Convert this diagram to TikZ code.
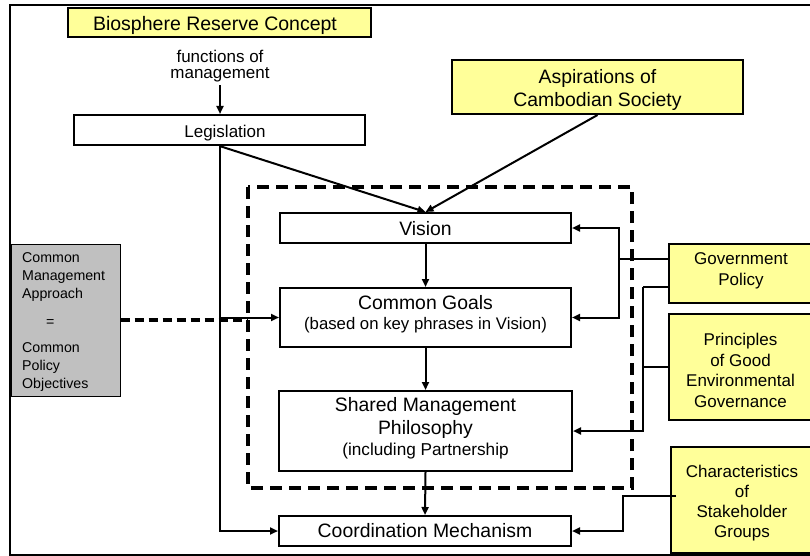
\documentclass[tikz,border=0pt]{standalone}
\usepackage{fontspec}
\setmainfont{Liberation Sans}
\usetikzlibrary{arrows.meta,calc}
\definecolor{ylw}{HTML}{FFFF99}
\definecolor{gry}{HTML}{C0C0C0}
\newcommand{\fsz}[2]{\fontsize{#1}{#2}\selectfont}
\newcommand{\tdn}[1]{\rule{0pt}{#1}}
\newcommand{\tup}[1]{\rule[-#1]{0pt}{0pt}}
\begin{document}
\begin{tikzpicture}[x=1pt,y=-1pt,
  box/.style={draw, line width=2pt, inner sep=0pt, align=center, font=\fsz{17}{20.5}},
  ybox/.style={box, fill=ylw},
  conn/.style={line width=2pt},
  arr/.style={conn, -{Triangle[length=8pt,width=7pt]}},
  bigdash/.style={line width=3.5pt, dash pattern=on 12pt off 7pt},
  smalldash/.style={line width=3.5pt, dash pattern=on 9pt off 5pt}]
\useasboundingbox (0,0) rectangle (810,556);
\draw[line width=2pt] (10,5) rectangle (830,555);

% nodes
\node[ybox, minimum width=303, minimum height=29, text height=16.4pt, text depth=0pt, font=\fsz{19.5}{23}] (bio) at (219.5,22.5) {Biosphere Reserve Concept\hspace{9pt}};
\node[font=\fsz{17}{15.5}, align=center, inner xsep=0pt, inner ysep=3.5pt] (fm) at (220,66) {functions of\\management};
\node[box, minimum width=291, minimum height=30, text height=14.6pt, text depth=0pt] (leg) at (219.5,130) {\hspace{11pt}Legislation};
\node[ybox, minimum width=291, minimum height=54, font=\fsz{19.4}{23.4}] (asp) at (597.5,87) {\tdn{20.1pt}Aspirations of\\Cambodian Society};
\node[box, minimum width=291, minimum height=30, text height=14pt, text depth=0pt, font=\fsz{19.4}{23}] (vis) at (425.5,228) {Vision};
\node[box, minimum width=291, minimum height=59, font=\fsz{19.4}{20.3}] (cg) at (425.5,317.5) {Common Goals\\{\fsz{16.75}{20.3}(based on key phrases in Vision)}\tup{9.5pt}};
\node[box, minimum width=293, minimum height=80, font=\fsz{19.4}{23.3}] (shm) at (425.5,431) {Shared Management\\Philosophy\\[-2.3pt]{\fsz{17.2}{21}(including Partnership}\tup{8.6pt}};
\node[box, minimum width=292, minimum height=30, text height=12.6pt, text depth=0pt, font=\fsz{19.4}{23}] (coord) at (425,531) {Coordination Mechanism};

\node[draw, line width=1pt, fill=gry, minimum width=109, minimum height=152, inner sep=0pt] (cma) at (65.5,320) {};
\node[anchor=north west, inner sep=0pt, align=left, font=\fsz{14.2}{18}] (cmat) at (22,252.7) {Common\\Management\\Approach\\[10pt]\hspace{24pt}=\\[8pt]Common\\Policy\\Objectives};

\node[ybox, minimum width=144, minimum height=59] (gov) at (741,273.5) {Government\\Policy\tup{8.6pt}};
\node[ybox, minimum width=143, minimum height=106] (pr) at (740.5,367) {\tdn{18.8pt}Principles\\of Good\\Environmental\\Governance};
\node[ybox, minimum width=142, minimum height=106, font=\fsz{17}{20}] (ch) at (742,500) {\tdn{17.8pt}Characteristics\\of\\Stakeholder\\Groups};

% dashed group
\coordinate (dbl) at (248,187);
\coordinate (dbr) at (632,488);
\draw[bigdash] (dbl) rectangle (dbr);

% connectors
\draw[arr] (fm.south) -- (fm.south |- leg.north);
\draw[arr] (leg.south) -- (vis.north);
\draw[arr] (asp.south) -- (vis.north);
\draw[arr] (leg.south) |- (coord.west);
\draw[smalldash] (cma.east) -- (cma.east -| dbl);
\draw[arr] (leg.south |- cg.west) -- (cg.west);
\draw[arr] (vis.south) -- (cg.north);
\draw[arr] (cg.south) -- (shm.north);
\draw[arr] (shm.south) -- (coord.north);

\coordinate (gA) at ($(gov.west)+(0,-14.5)$);
\coordinate (gB) at ($(gov.west)+(0,13.5)$);
\coordinate (j1) at ($(gA)+(-49,0)$);
\coordinate (j2) at ($(gB)+(-25,0)$);
\draw[conn] (gA) -- (j1);
\draw[arr] (j1) |- (vis.east);
\draw[arr] (j1) |- (cg.east);
\draw[conn] (gB) -- (j2);
\draw[arr] (j2) |- (shm.east);
\draw[conn] (pr.west) -- (pr.west -| j2);
\coordinate (c1) at ($(ch.west)+(6,-4)$);
\coordinate (j3) at ($(c1)+(-53,0)$);
\draw[arr] (c1) -- (j3) |- (coord.east);
\end{tikzpicture}
\end{document}
